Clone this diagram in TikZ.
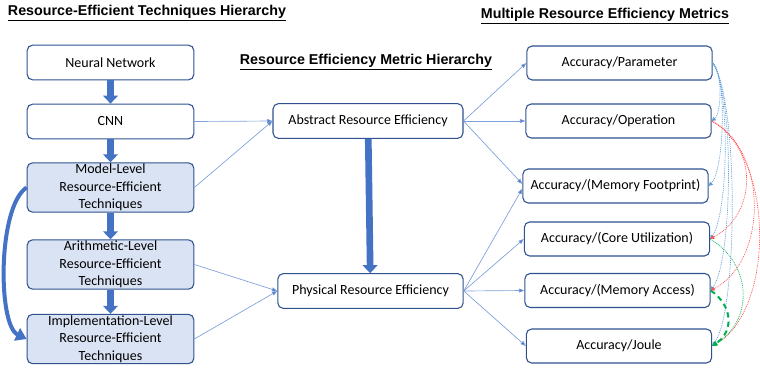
\documentclass[tikz,border=0pt]{standalone}
\usepackage{fontspec}
\setmainfont{Carlito}
\newfontfamily\titlefont{Liberation Sans}
\usetikzlibrary{arrows.meta}
\definecolor{boxline}{HTML}{2F528F}
\definecolor{techfill}{HTML}{DAE3F3}
\definecolor{flowblue}{HTML}{4472C4}
\definecolor{linkblue}{HTML}{7F9FDB}
\definecolor{dotblue}{HTML}{5B9BD5}
\definecolor{dotred}{HTML}{FF5050}
\definecolor{dotgreen}{HTML}{00B050}

\begin{document}
\begin{tikzpicture}[x=0.75pt,y=-0.75pt,
  box/.style={draw=boxline,line width=0.8pt,rounded corners=4pt,fill=white,align=center,inner sep=0pt,
    font=\fontsize{10.5}{13}\selectfont,minimum width=125pt,minimum height=26pt},
  techbox/.style={box,fill=techfill,minimum height=37pt},
  metric/.style={box,minimum width=139pt,minimum height=25.5pt},
  heading/.style={font=\titlefont\bfseries\fontsize{10.7}{12}\selectfont},
  flow/.style={draw=flowblue,line width=5pt,-{Triangle[length=6pt,width=11pt]}},
  link/.style={draw=linkblue,line width=0.5pt,-{Triangle[length=4pt,width=3pt,fill=flowblue]}},
  dots/.style={line width=0.5pt,dash pattern=on 0.7pt off 0.7pt,-{Triangle[length=3pt,width=3pt]}}]
\useasboundingbox (0,0) rectangle (760,368);

\node[heading] (lefttitle) at (147,13) {\underline{Resource-Efficient Techniques Hierarchy}};
\node[heading] (midtitle) at (366,62) {\underline{Resource Efficiency Metric Hierarchy}};
\node[heading] (righttitle) at (605,16) {\underline{Multiple Resource Efficiency Metrics}};

\node[box] (nn) at (110.5,62.5) {Neural Network};
\node[box] (cnn) at (110.5,121.5) {CNN};
\node[techbox] (model) at (110.5,187.5) {Model-Level\\Resource-Efficient\\Techniques};
\node[techbox] (arith) at (110.5,264.5) {Arithmetic-Level\\Resource-Efficient\\Techniques};
\node[techbox] (impl) at (110.5,339) {Implementation-Level\\Resource-Efficient\\Techniques};

\node[box,minimum width=142.5pt] (abs) at (368,121) {Abstract Resource Efficiency};
\node[box,minimum width=139pt] (phys) at (370.5,291) {Physical Resource Efficiency};

\node[metric] (par) at (619.5,63) {Accuracy/Parameter};
\node[metric] (op) at (618.5,121) {Accuracy/Operation};
\node[metric] (foot) at (615.5,186) {Accuracy/(Memory Footprint)};
\node[metric] (core) at (617,239) {Accuracy/(Core Utilization)};
\node[metric] (mem) at (617.5,290.5) {Accuracy/(Memory Access)};
\node[metric] (joule) at (619,346) {Accuracy/Joule};

\draw[flow] (nn) -- (cnn);
\draw[flow] (cnn) -- (model);
\draw[flow] (model) -- (arith);
\draw[flow] (arith) -- (impl);
\draw[flow] (abs) -- (phys);
\draw[draw=flowblue,line width=3pt,-{Triangle[length=8pt,width=10pt]}]
  (model.west) .. controls +(-29,19) and +(-29,-14) .. (impl.west);

\draw[link] (cnn.east) -- (abs.west);
\draw[link] (model.east) -- (abs.west);
\draw[link] (arith.east) -- (phys.west);
\draw[link] (impl.east) -- (phys.west);
\draw[link] (abs.east) -- (par.west);
\draw[link] (abs.east) -- (op.west);
\draw[link] (abs.east) -- ([yshift=1.5pt]foot.west);
\draw[link] (phys.east) -- ([yshift=-2pt]foot.west);
\draw[link] (phys.east) -- (core.west);
\draw[link] (phys.east) -- (mem.west);
\draw[link] (phys.east) -- (joule.west);

\draw[dots,dotblue] (par.east) .. controls +(10,8) and +(10,-8) .. (op.east);
\draw[dots,dotblue] (par.east) .. controls +(15,15) and +(15,-15) .. (foot.east);
\draw[dots,dotblue] (par.east) .. controls +(18,25) and +(18,-25) .. (core.east);
\draw[dots,dotblue] (par.east) .. controls +(22,30) and +(22,-30) .. (mem.east);
\draw[dots,dotblue] (par.east) .. controls +(26,35) and +(26,-35) .. (joule.east);
\draw[dots,dotred] (op.east) .. controls +(47,25) and +(47,-25) .. (core.east);
\draw[dots,dotred] (op.east) .. controls +(57,30) and +(57,-30) .. (mem.east);
\draw[dots,dotred] (op.east) .. controls +(63,35) and +(63,-35) .. (joule.east);
\draw[dots,dotgreen] (core.east) .. controls +(42,25) and +(42,-25) .. (joule.east);
\draw[draw=dotgreen,line width=1.5pt,dash pattern=on 4pt off 3pt,-{Triangle[length=4pt,width=4pt]}]
  (mem.east) .. controls +(22,15) and +(22,-15) .. (joule.east);
\end{tikzpicture}
\end{document}
